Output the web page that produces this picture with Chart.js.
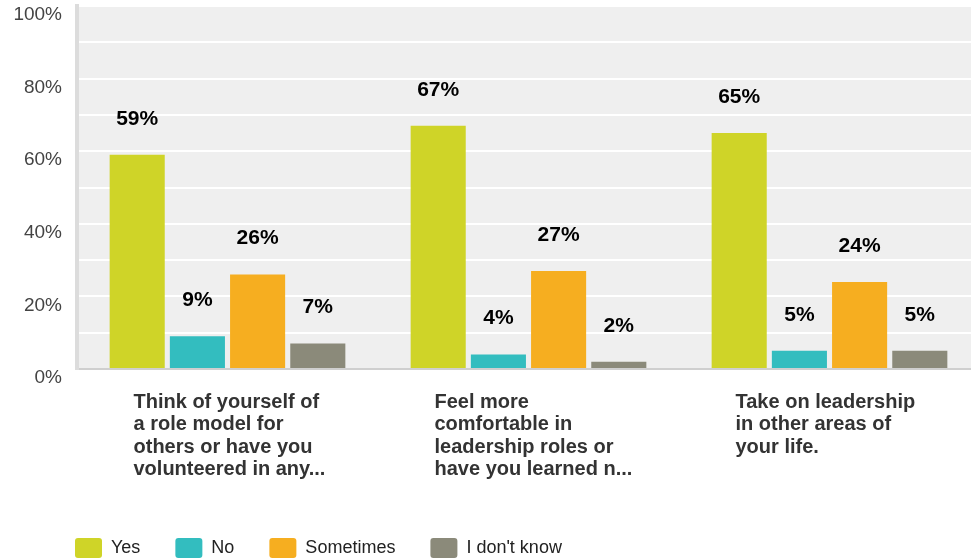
<!DOCTYPE html>
<html>
<head>
<meta charset="utf-8">
<script src="https://cdn.jsdelivr.net/npm/chart.js@4.4.0/dist/chart.umd.min.js"></script>
<style>
  html, body { margin: 0; padding: 0; background: #fff; overflow: hidden; }
  #wrap { width: 980px; height: 559px; }
</style>
</head>
<body>
<div id="wrap"><canvas id="chart"></canvas></div>
<script>
// questions (x categories)
let questions = [
  ['Think of yourself of', 'a role model for', 'others or have you', 'volunteered in any...'],
  ['Feel more', 'comfortable in', 'leadership roles or', 'have you learned n...'],
  ['Take on leadership', 'in other areas of', 'your life.']
]
let seriesNames = ['Yes', 'No', 'Sometimes', "I don't know"]
let yes = [59, 67, 65]
let no = [9, 4, 5]
let sometimes = [26, 27, 24]
let dontKnow = [7, 2, 5]
let yTicks = [0, 20, 40, 60, 80, 100]

const FONT = '"Liberation Sans", Arial, sans-serif'
const colors = ['rgb(207,212,40)', 'rgb(51,189,191)', 'rgb(246,174,32)', 'rgb(139,138,122)']

let data = {
  labels: questions,
  datasets: [yes, no, sometimes, dontKnow].map((vals, i) => ({
    label: seriesNames[i],
    data: vals,
    backgroundColor: colors[i],
    borderWidth: 0,
    categoryPercentage: 0.8,
    barPercentage: 0.915
  }))
}

// grey plot background
const plotBg = {
  id: 'plotBg',
  beforeDraw(chart) {
    const a = chart.chartArea
    const ctx = chart.ctx
    ctx.save()
    ctx.fillStyle = '#efefef'
    ctx.fillRect(a.left, a.top, a.right - a.left, a.bottom - a.top)
    ctx.restore()
  }
}

// legend starts under the plot, not at the canvas edge
const legendShift = {
  id: 'legendShift',
  afterLayout(chart) {
    if (chart.legend) chart.legend.left = 40
  }
}

// value labels above the bars
const valueLabels = {
  id: 'valueLabels',
  afterDatasetsDraw(chart) {
    const ctx = chart.ctx
    ctx.save()
    ctx.font = 'bold 21px ' + FONT
    ctx.fillStyle = '#000'
    ctx.textAlign = 'center'
    ctx.textBaseline = 'middle'
    chart.data.datasets.forEach((ds, d) => {
      chart.getDatasetMeta(d).data.forEach((bar, i) => {
        ctx.fillText(ds.data[i] + '%', bar.x, bar.y - 36)
      })
    })
    ctx.restore()
  }
}

const config = {
  type: 'bar',
  data: data,
  plugins: [plotBg, legendShift, valueLabels],
  options: {
    responsive: true,
    maintainAspectRatio: false,
    animation: false,
    layout: { padding: { left: 0, right: 0, top: 6, bottom: -9 } },
    scales: {
      x: {
        grid: { display: false, drawTicks: false },
        border: { display: true, color: '#cfcfcf', width: 2 },
        ticks: {
          align: 'start',
          labelOffset: -94,
          padding: 22,
          maxRotation: 0,
          minRotation: 0,
          autoSkip: false,
          color: '#333',
          font: { family: FONT, size: 20, weight: 'bold', lineHeight: 1.12 }
        },
        afterFit: (s) => { s.paddingLeft = 0; s.paddingRight = 0; s.height = 134 }
      },
      y: {
        min: 0,
        max: 100,
        grid: { color: '#ffffff', lineWidth: 2, drawTicks: false },
        border: { display: true, color: '#dcdcdc', width: 4 },
        ticks: {
          stepSize: 10,
          padding: 15,
          labelOffset: 9,
          color: '#444',
          font: { family: FONT, size: 19 },
          callback: (v) => yTicks.includes(v) ? v + '%' : ''
        },
        afterFit: (s) => { s.width = 77; s.paddingTop = 0; s.paddingBottom = 0 }
      }
    },
    plugins: {
      legend: {
        position: 'bottom',
        align: 'start',
        labels: {
          boxWidth: 27,
          boxHeight: 20,
          padding: 35,
          useBorderRadius: true,
          borderRadius: 3,
          color: '#222',
          font: { family: FONT, size: 18 }
        }
      },
      tooltip: { enabled: false }
    }
  }
}

const chart = new Chart(document.getElementById('chart'), config)
</script>
</body>
</html>
